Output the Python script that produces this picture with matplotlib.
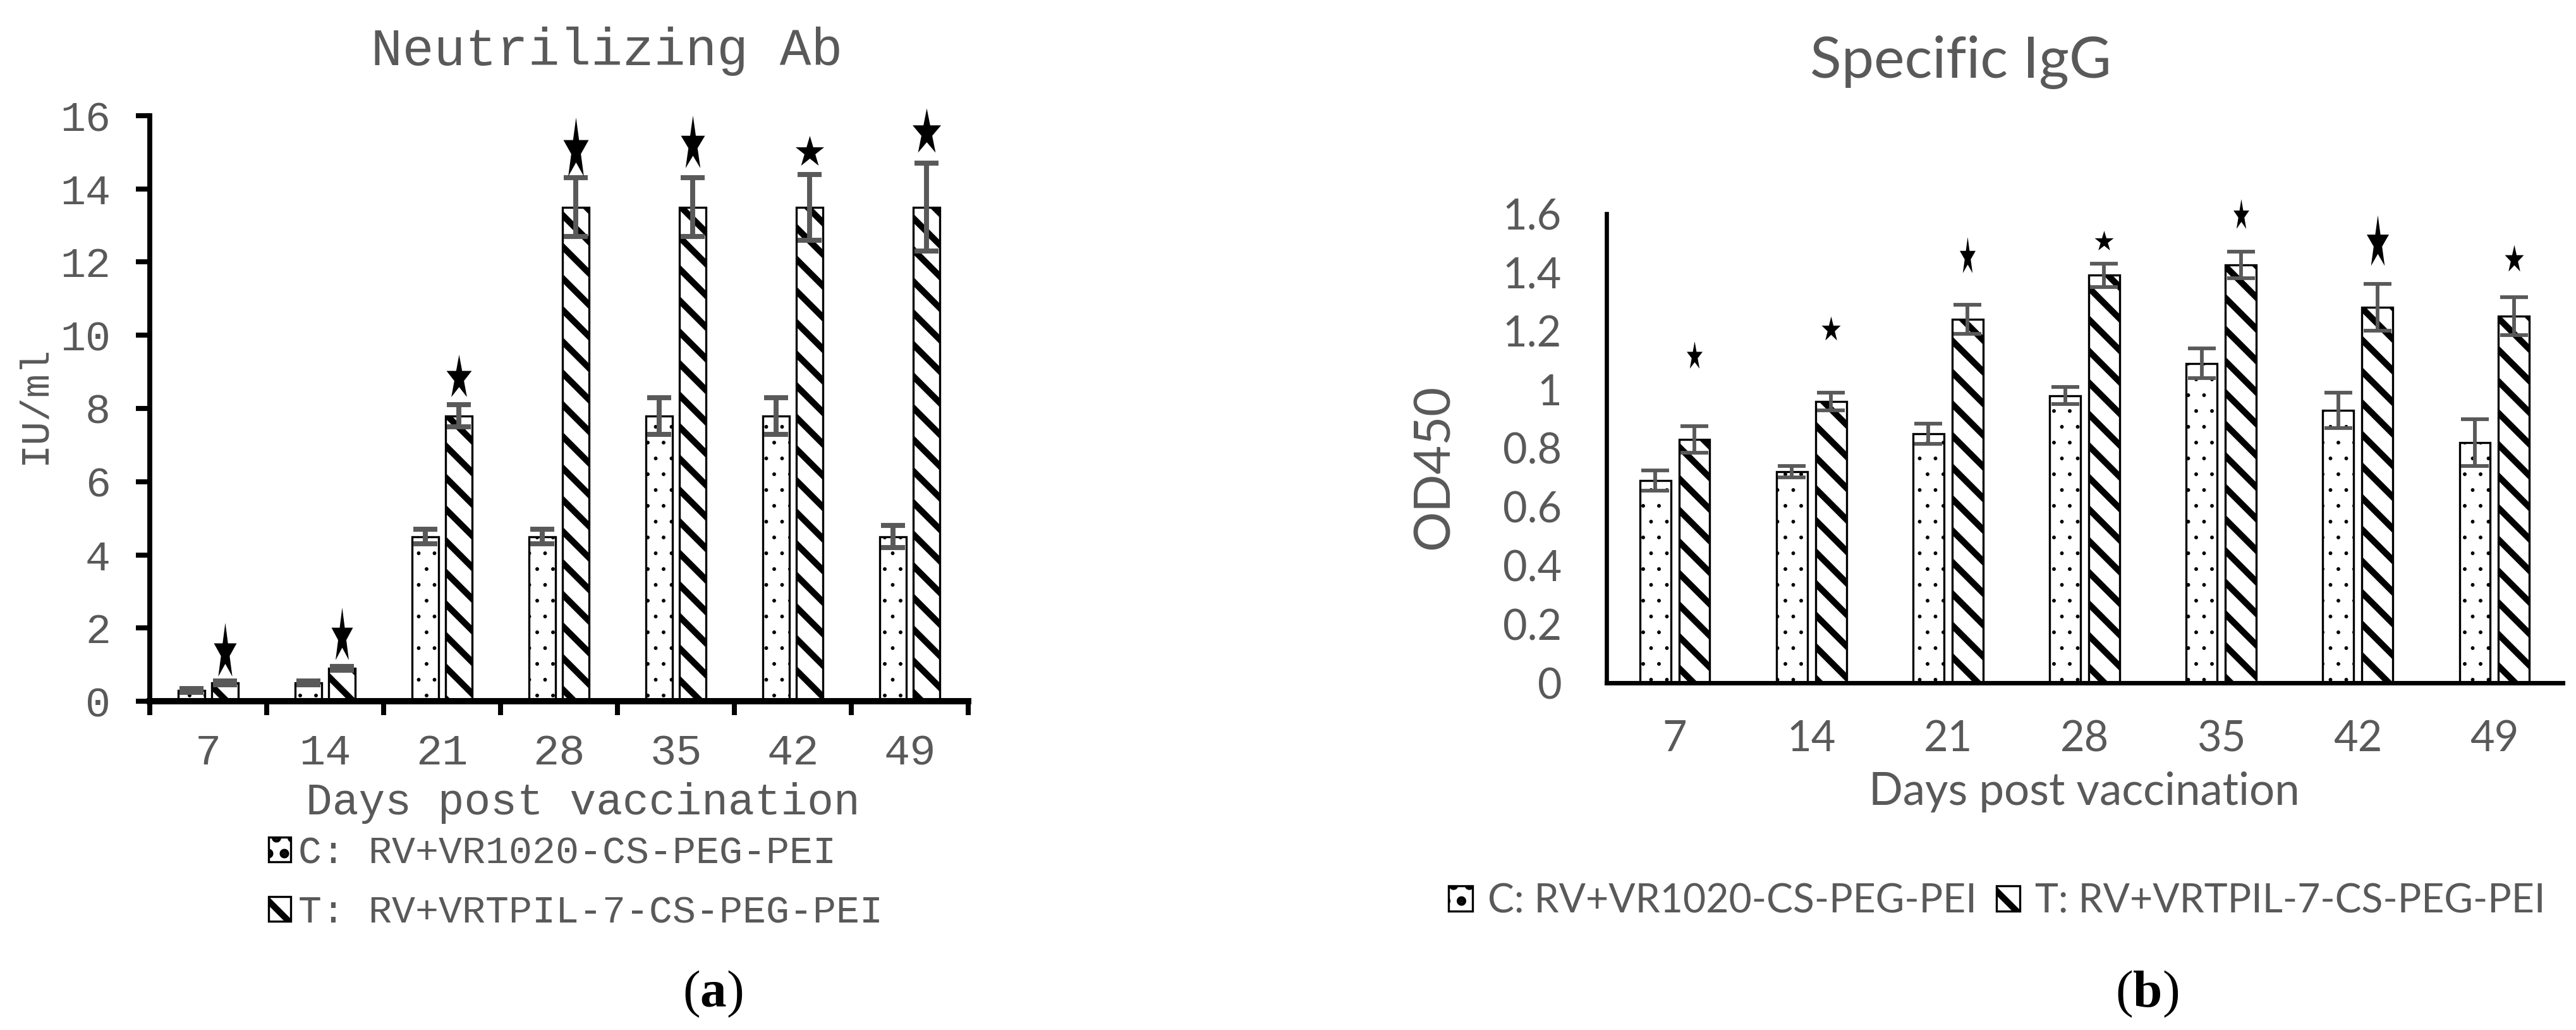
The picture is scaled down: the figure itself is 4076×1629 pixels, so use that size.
import numpy as np
import matplotlib
matplotlib.use('Agg')
import matplotlib.pyplot as plt
from matplotlib.path import Path

# ---- data ----
days = ['7', '14', '21', '28', '35', '42', '49']
label_c = 'C: RV+VR1020-CS-PEG-PEI'
label_t = 'T: RV+VRTPIL-7-CS-PEG-PEI'

# (a) neutralizing antibody (IU/ml)
nab_c = [0.3, 0.5, 4.5, 4.5, 7.8, 7.8, 4.5]
nab_c_err = [0.05, 0.05, 0.2, 0.2, 0.5, 0.5, 0.3]
nab_t = [0.5, 0.9, 7.8, 13.5, 13.5, 13.5, 13.5]
nab_t_err = [0.05, 0.05, 0.3, 0.8, 0.8, 0.9, 1.2]
nab_star = [1.42, 1.85, 8.9, 15.15, 15.3, 15.05, 15.6]

# (b) specific IgG (OD450)
igg_c = [0.69, 0.72, 0.85, 0.98, 1.09, 0.93, 0.82]
igg_c_err = [0.035, 0.02, 0.035, 0.03, 0.05, 0.06, 0.08]
igg_t = [0.83, 0.96, 1.24, 1.39, 1.425, 1.28, 1.25]
igg_t_err = [0.045, 0.03, 0.05, 0.04, 0.045, 0.08, 0.065]
igg_star = [1.12, 1.21, 1.46, 1.51, 1.6, 1.51, 1.45]

# star sizes in pixels (width, height) - style only
star_px_a = [(36, 85), (34, 83), (40, 67), (40, 93), (38, 83), (45, 47), (45, 70)]
star_px_b = [(25, 43), (30, 38), (25, 57), (30, 31), (25, 47), (35, 80), (30, 42)]

# ---- layout ----
DPI = 300
WPX, HPX = 4076, 1629
PT = 72 / DPI
GREY = '#595959'
BW = 0.226
OFF = 0.143
MONO = 'Liberation Mono'
SANS = 'Lato'

plt.rcParams['hatch.linewidth'] = 2.4
plt.rcParams['mathtext.fontset'] = 'custom'
plt.rcParams['mathtext.rm'] = 'Liberation Serif'
plt.rcParams['mathtext.bf'] = 'Liberation Serif:bold'


def fx(px):
    return px / WPX


def fy(px):
    return 1 - px / HPX


def star_marker(w, h):
    k = np.arange(10)
    ang = np.pi / 2 + k * np.pi / 5
    r = np.where(k % 2 == 0, 1.0, 0.382)
    x = r * np.cos(ang)
    y = r * np.sin(ang)
    x = (x - (x.max() + x.min()) / 2) / (x.max() - x.min()) * w
    y = (y - (y.max() + y.min()) / 2) / (y.max() - y.min()) * h
    verts = np.column_stack([np.append(x, x[0]), np.append(y, y[0])])
    return Path(verts, closed=True)


def hatch_lw(bars, lw):
    for p in bars:
        if hasattr(p, 'set_hatch_linewidth'):
            p.set_hatch_linewidth(lw)


def draw_bars(ax, c, ce, t, te, star, star_px, elw, cap):
    x = np.arange(len(days))
    bc = ax.bar(x - OFF, c, BW, color='white', edgecolor='black',
                linewidth=0.8, hatch='..', zorder=2)
    bt = ax.bar(x + OFF, t, BW, color='white', edgecolor='black',
                linewidth=0.8, hatch='\\\\', zorder=2)
    hatch_lw(bc, 0.2)
    hatch_lw(bt, 2.4)
    ax.errorbar(x - OFF, c, yerr=ce, fmt='none', ecolor=GREY,
                elinewidth=elw, capsize=cap, capthick=elw, zorder=3)
    ax.errorbar(x + OFF, t, yerr=te, fmt='none', ecolor=GREY,
                elinewidth=elw, capsize=cap, capthick=elw, zorder=3)
    for i in range(len(days)):
        w, h = star_px[i]
        ax.plot(x[i] + OFF, star[i], linestyle='none', marker=star_marker(w, h),
                markersize=max(w, h) * PT, color='black', mew=0,
                clip_on=False, zorder=4)
    return bc, bt


fig = plt.figure(figsize=(WPX / DPI, HPX / DPI), dpi=DPI)

# ---------- panel (a) ----------
ax1 = fig.add_axes([fx(237), fy(1109), 1295 / WPX, 926 / HPX])
bc, bt = draw_bars(ax1, nab_c, nab_c_err, nab_t, nab_t_err,
                   nab_star, star_px_a, 1.9, 4.6)
ax1.set_xlim(-0.5, 6.5)
ax1.set_ylim(0, 16)
ax1.spines[['top', 'right']].set_visible(False)
ax1.spines['left'].set_linewidth(1.9)
ax1.spines['bottom'].set_linewidth(2.4)
ax1.set_xticks(np.arange(len(days)))
ax1.set_xticklabels(days)
ax1.set_xticks(np.arange(-0.5, 7, 1), minor=True)
ax1.set_yticks(np.arange(0, 17, 2))
ax1.tick_params(axis='x', which='major', length=0, pad=12,
                labelsize=16.5, labelcolor=GREY)
ax1.tick_params(axis='x', which='minor', length=5.3, width=1.9)
ax1.tick_params(axis='y', length=5.3, width=1.9, pad=9.6,
                labelsize=16, labelcolor=GREY)
for lab in ax1.get_xticklabels() + ax1.get_yticklabels():
    lab.set_fontfamily(MONO)

fig.text(fx(960), fy(103), 'Neutrilizing Ab', ha='center', va='baseline',
         fontsize=19.9, family=MONO, color=GREY)
fig.text(fx(55), fy(640), 'IU/ml', ha='center', va='center', rotation=90,
         fontsize=15, family=MONO, color=GREY)
fig.text(fx(922), fy(1288), 'Days post vaccination', ha='center',
         va='baseline', fontsize=16.7, family=MONO, color=GREY)
leg1 = fig.legend([bc, bt], [label_c, label_t], loc='upper left',
                  bbox_to_anchor=(fx(425), fy(1321)), frameon=False,
                  prop={'family': MONO, 'size': 14.8},
                  handlelength=0.56, handleheight=0.6, handletextpad=0.2,
                  labelspacing=0.6, borderpad=0, borderaxespad=0)
for t in leg1.get_texts():
    t.set_color(GREY)
fig.text(fx(1128), fy(1572), r'($\mathbf{a}$)', ha='center', va='center',
         fontsize=20, family='Liberation Serif', color='black')

# ---------- panel (b) ----------
ax2 = fig.add_axes([fx(2542), fy(1080), 1513 / WPX, 742 / HPX])
bc2, bt2 = draw_bars(ax2, igg_c, igg_c_err, igg_t, igg_t_err,
                     igg_star, star_px_b, 1.4, 5.2)
ax2.set_xlim(-0.5, 6.5)
ax2.set_ylim(0, 1.6)
ax2.spines[['top', 'right']].set_visible(False)
ax2.spines['left'].set_linewidth(1.6)
ax2.spines['bottom'].set_linewidth(1.7)
ax2.set_xticks(np.arange(len(days)))
ax2.set_xticklabels(days)
yt = np.arange(0, 1.61, 0.2)
ax2.set_yticks(yt)
ax2.set_yticklabels(['0', '0.2', '0.4', '0.6', '0.8', '1', '1.2', '1.4', '1.6'])
ax2.tick_params(axis='x', length=0, pad=14, labelsize=16, labelcolor=GREY)
ax2.tick_params(axis='y', length=0, pad=17, labelsize=16, labelcolor=GREY)
for lab in ax2.get_xticklabels() + ax2.get_yticklabels():
    lab.set_fontfamily(SANS)

fig.text(fx(3102), fy(123), 'Specific IgG', ha='center', va='baseline',
         fontsize=22, family=SANS, color=GREY)
fig.text(fx(2270), fy(738), 'OD450', ha='center', va='center', rotation=90,
         fontsize=19, family=SANS, color=GREY)
fig.text(fx(3298), fy(1273), 'Days post vaccination', ha='center',
         va='baseline', fontsize=17, family=SANS, color=GREY)
leg2 = fig.legend([bc2, bt2], [label_c, label_t], loc='center', ncol=2,
                  bbox_to_anchor=(fx(3160), fy(1425)), frameon=False,
                  prop={'family': SANS, 'size': 15},
                  handlelength=0.6, handleheight=0.6, handletextpad=0.38,
                  columnspacing=0.5, borderpad=0, borderaxespad=0)
for t in leg2.get_texts():
    t.set_color(GREY)
fig.text(fx(3397), fy(1572), r'($\mathbf{b}$)', ha='center', va='center',
         fontsize=20, family='Liberation Serif', color='black')

fig.savefig('out.png', dpi=DPI)
